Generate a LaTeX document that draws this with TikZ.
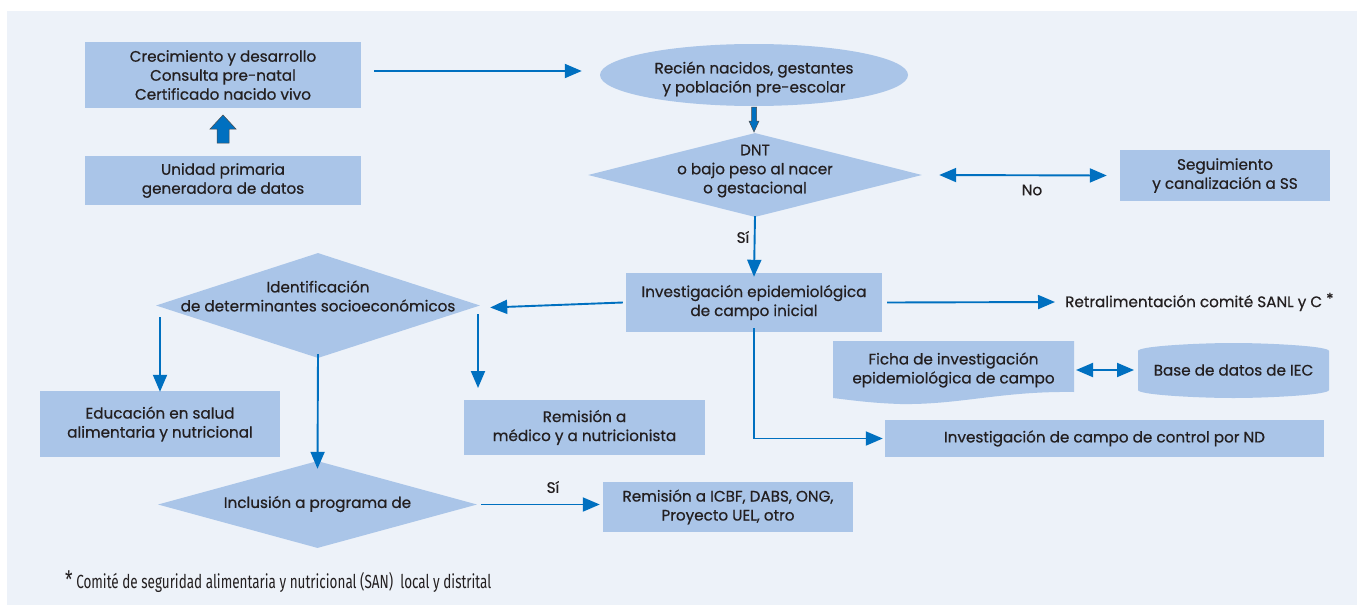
\documentclass[tikz,border=0pt]{standalone}
\usepackage{fontspec}
\setmainfont{Poppins}
\newfontfamily\boxfont{Poppins}[FakeBold=0.6]
\newfontfamily\footfont{Fira Sans}
\usetikzlibrary{arrows.meta,shapes.geometric}
\definecolor{panel}{RGB}{237,242,249}
\definecolor{boxc}{RGB}{170,197,232}
\definecolor{arrc}{RGB}{0,112,192}
\definecolor{txt}{RGB}{35,31,32}
\tikzset{
  every node/.style={text=txt,font=\boxfont\fontsize{15.2}{19}\selectfont},
  box/.style={fill=boxc,draw=none,align=center,inner sep=0pt},
  dia/.style={shape=diamond,fill=boxc,draw=none,inner sep=0pt},
  lbl/.style={align=center,inner sep=0pt},
  arr/.style={draw=arrc,line width=1.9pt,-{Triangle[length=17pt,width=14pt]}},
  darr/.style={draw=arrc,line width=1.9pt,{Triangle[length=17pt,width=14pt]}-{Triangle[length=17pt,width=14pt]}},
  barr/.style={fill=arrc,draw=black!70,line width=0.5pt},
}
\begin{document}
\begin{tikzpicture}[x=1pt,y=-1pt]
\useasboundingbox (0,0) rectangle (1357,605);
\fill[panel] (7,11) rectangle (1357,605);

% boxes
\node[box,minimum width=276pt,minimum height=66pt] (crec) at (223,75) {Crecimiento y desarrollo\\Consulta pre-natal\\Certificado nacido vivo};
\node[box,minimum width=276pt,minimum height=49pt] (unid) at (223,180.5) {Unidad primaria\\generadora de datos};
\node[ellipse,fill=boxc,draw=none,minimum width=308pt,minimum height=62pt,inner sep=0pt] (rec) at (754,75) {};
\node[lbl] at (754,79) {Recién nacidos, gestantes\\y población pre-escolar};

\node[dia,minimum width=334pt,minimum height=84pt] (dnt) at (755,175) {};
\node[lbl] at (755,171) {DNT\\o bajo peso al nacer\\o gestacional};

\node[box,minimum width=210pt,minimum height=51pt] (seg) at (1225,175.5) {Seguimiento\\y canalización a SS};

\node[box,minimum width=256pt,minimum height=59pt] (inv) at (754,302.5) {Investigación epidemiológica\\de campo inicial};

\node[lbl,anchor=west] (retro) at (1065,302) {Retralimentación comité SANL y C \raisebox{3pt}{*}};

\node[dia,minimum width=324pt,minimum height=105pt] (ident) at (318,305.5) {};
\node[lbl] at (318,296) {Identificación\\de determinantes socioeconómicos};

\node[box,minimum width=240pt,minimum height=66pt] (educ) at (160,424) {Educación en salud\\alimentaria y nutricional};
\node[box,minimum width=241pt,minimum height=55pt] (remed) at (584.5,427.5) {Remisión a\\médico y a nutricionista};

\node[dia,minimum width=319pt,minimum height=87pt] (incl) at (317.5,504.5) {};
\node[lbl] at (317.5,504) {Inclusión a programa de};

\node[box,minimum width=250pt,minimum height=50pt] (icbf) at (728,507) {Remisión a ICBF, DABS, ONG,\\Proyecto UEL, otro};

% Ficha (document shape)
\fill[boxc] (833,341) -- (1074,341) -- (1074,392) .. controls (1000,391) and (960,405) .. (900,404) .. controls (870,403) and (850,400) .. (833,398) -- cycle;
\node[lbl] (ficha) at (953.5,370) {Ficha de investigación\\epidemiológica de campo};
\coordinate (fichaE) at (1076,370);

% Base de datos
\fill[boxc] (1138,351) .. controls (1138,346) and (1200,343) .. (1233.5,343) .. controls (1267,343) and (1329,346) .. (1329,351) -- (1329,390) .. controls (1329,395) and (1267,398) .. (1233.5,398) .. controls (1200,398) and (1138,395) .. (1138,390) -- cycle;
\node[lbl] (base) at (1233.5,370) {Base de datos de IEC};
\coordinate (baseW) at (1134,370);

\node[box,minimum width=439pt,minimum height=37pt] (ctrl) at (1104.5,438.5) {Investigación de campo de control por ND};

% block arrows
\filldraw[barr] (217,143) -- (229,143) -- (229,129) -- (236,129) -- (223,115) -- (210,129) -- (217,129) -- cycle;
\filldraw[barr] (751.5,107) -- (756.5,107) -- (756.5,121) -- (759,121) -- (754,132) -- (749,121) -- (751.5,121) -- cycle;

% connectors
\draw[arr] ([xshift=13pt,yshift=4pt]crec.east) -- ([xshift=-18pt,yshift=4pt]rec.west);
\draw[darr] ([xshift=17pt]dnt.east) -- ([xshift=-13pt]seg.west);
\node[lbl] at (1032,190) {No};
\draw[arr] ([yshift=1pt]dnt.south) -- ([yshift=-4pt]inv.north);
\node[lbl] at (743,237) {Sí};
\draw[arr] ([xshift=5pt]inv.east) -- ([xshift=-10pt]retro.west);
\draw[arr] ([xshift=-3pt]inv.west) -- ([xshift=10pt,yshift=-2pt]ident.east);
\draw[arr] (160,317) -- ([yshift=-1pt]educ.north -| 160,0);
\draw[arr] (478,314) -- (478,388);
\draw[arr] ([yshift=4pt]ident.south) -- ([yshift=-8pt]incl.north);
\draw[arr] ([xshift=4pt]incl.east) -- ([xshift=-3pt]icbf.west |- incl.east);
\node[lbl] at (553,487) {Sí};
\draw[darr] (fichaE) -- (baseW);
\draw[arr] ([yshift=4pt]inv.south) |- ([xshift=-2pt]ctrl.west);

% footnote
\node[lbl,anchor=west] (foot) at (65,582) {\scalebox{0.71}[1]{\footfont\fontsize{19}{20}\selectfont\raisebox{0pt}{\fontsize{24}{20}\selectfont*} Comité de seguridad alimentaria y nutricional (SAN)\ \ local y distrital}};
\end{tikzpicture}
\end{document}
